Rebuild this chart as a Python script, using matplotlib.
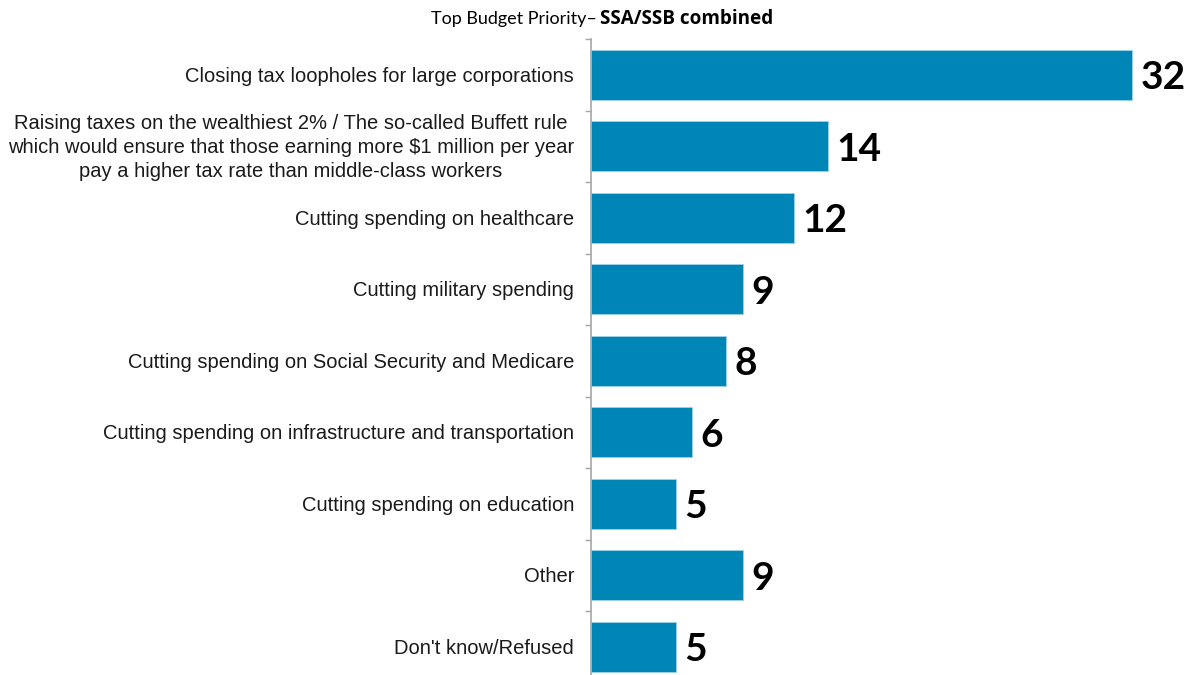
import numpy as np
import matplotlib.pyplot as plt

# Survey results, top budget priority (percent)
categories = [
    "Closing tax loopholes for large corporations",
    "Raising taxes on the wealthiest 2% / The so-called Buffett rule\n"
    "which would ensure that those earning more $1 million per year\n"
    "pay a higher tax rate than middle-class workers",
    "Cutting spending on healthcare",
    "Cutting military spending",
    "Cutting spending on Social Security and Medicare",
    "Cutting spending on infrastructure and transportation",
    "Cutting spending on education",
    "Other",
    "Don't know/Refused",
]
values = [32, 14, 12, 9, 8, 6, 5, 9, 5]

bar_color = "#0086B6"
axis_gray = "#A6A6A6"

fig = plt.figure(figsize=(11.9, 6.75), dpi=100)
ax = fig.add_axes([591 / 1190, -7.5 / 675, 599 / 1190, 643.5 / 675])

y = np.arange(len(categories))
ax.barh(y, values, height=0.70, color=bar_color, edgecolor="#9FD3E6", linewidth=0.6)

for yi, v in zip(y, values):
    ax.text(v + 0.5, yi + 0.04, str(v), va="center", ha="left",
            fontsize=28, fontweight="bold", family="Lato", color="black")

ax.set_xlim(0, 599 / 16.9)
ax.set_ylim(len(categories) - 0.5, -0.5)

# category labels on the left of the axis
ax.set_yticks([])
for yi, lab in zip(y, categories):
    ax.text(-1.0, yi + 0.02, lab, ha="right", va="center", multialignment="center",
            fontsize=14.5, family="Liberation Sans", color="#1A1A1A",
            linespacing=1.33)

# small ticks at category boundaries
ax.set_yticks(np.arange(-0.5, len(categories), 1.0), minor=True)
ax.tick_params(axis="y", which="minor", length=4, width=1, color=axis_gray, direction="out", left=True)
ax.set_xticks([])

for s in ["top", "right", "bottom"]:
    ax.spines[s].set_visible(False)
ax.spines["left"].set_color(axis_gray)
ax.spines["left"].set_linewidth(1.2)

# title with bold tail
fig.text(597 / 1190, 1 - 19 / 675, "Top Budget Priority–", ha="right", va="center",
         fontsize=13, family="Lato")
fig.text(600 / 1190, 1 - 19 / 675, "SSA/SSB combined", ha="left", va="center",
         fontsize=13.6, family="Open Sans", fontweight="bold")

fig.savefig("out.png", dpi=100)
